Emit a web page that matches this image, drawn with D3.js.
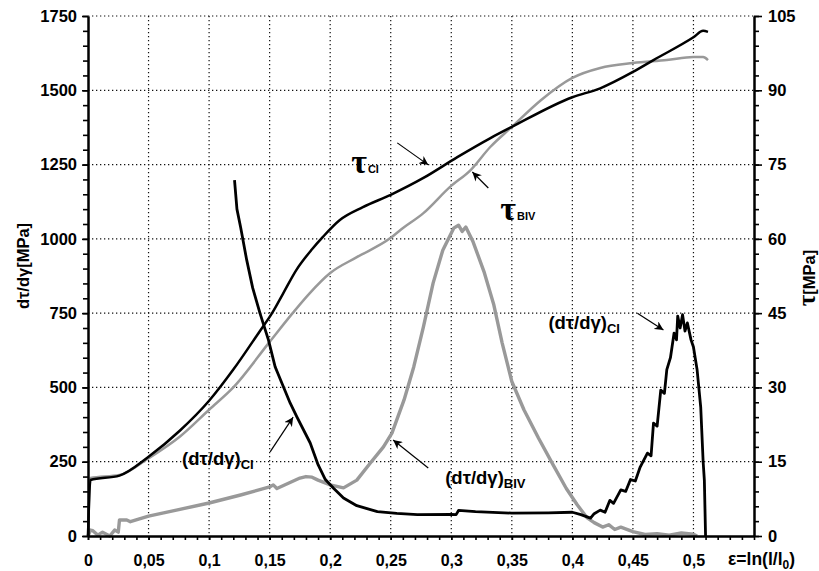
<!DOCTYPE html>
<html>
<head>
<meta charset="utf-8">
<script src="https://cdn.jsdelivr.net/npm/d3@7"></script>
<style>
  body { margin: 0; background: #fff; }
  text { font-family: "Liberation Sans", Arial, sans-serif; font-weight: bold; fill: #000; }
</style>
</head>
<body>
<svg id="chart" width="819" height="571"></svg>
<script>
// --- data ---
// tau curves use the right axis (MPa), derivative curves use the left axis (MPa)
const tauCI = [[0,0],[0.002,11.3],[0.026,12.2],[0.05,16.0],[0.076,21.3],[0.1,27.3],[0.12,33.6],
  [0.142,41.4],[0.152,45.0],[0.161,48.9],[0.172,53.7],[0.185,57.9],[0.194,60.4],[0.208,63.8],
  [0.227,66.4],[0.25,68.9],[0.277,72.3],[0.305,76.5],[0.332,80.3],[0.35,82.6],[0.4,88.6],
  [0.423,90.4],[0.45,93.7],[0.467,96.1],[0.5,100.7],[0.508,102.0],[0.512,101.8]];

const tauBIV = [[0,0],[0.002,11.7],[0.026,12.3],[0.05,15.7],[0.076,20.1],[0.1,25.5],[0.12,30.0],
  [0.15,39.2],[0.169,45.0],[0.183,49.0],[0.2,53.1],[0.222,56.3],[0.25,60.2],[0.258,61.8],
  [0.277,65.2],[0.299,70.5],[0.316,73.9],[0.332,78.5],[0.35,82.6],[0.374,88.0],[0.4,92.5],
  [0.423,94.5],[0.45,95.5],[0.478,96.1],[0.5,96.7],[0.508,96.7],[0.512,96.1]];

const dtauCI = [[0.121,1198],[0.123,1100],[0.126,1040],[0.131,930],[0.136,835],[0.142,750],
  [0.149,660],[0.1545,570],[0.157,545],[0.167,447],[0.1725,401],[0.1835,313],[0.19,240],
  [0.196,190],[0.203,160],[0.211,128],[0.222,102],[0.239,82],[0.255,76],[0.272,72],[0.3,73],
  [0.304,72],[0.306,86],[0.32,82],[0.35,77],[0.38,78],[0.4,80],[0.407,72],[0.415,60],
  [0.418,75],[0.423,87],[0.427,80],[0.431,120],[0.434,110],[0.44,155],[0.444,150],[0.448,190],
  [0.452,185],[0.456,232],[0.462,279],[0.465,270],[0.467,380],[0.47,370],[0.473,491],
  [0.476,480],[0.478,560],[0.481,600],[0.484,683],[0.486,660],[0.487,740],[0.489,700],
  [0.491,745],[0.493,690],[0.495,717],[0.498,660],[0.5,636],[0.503,560],[0.506,434],
  [0.508,250],[0.509,188],[0.51,0]];

const dtauBIV = [[0,0],[0.002,20],[0.004,18],[0.008,3],[0.012,13],[0.018,0],[0.022,20],
  [0.025,13],[0.026,54],[0.032,54],[0.035,48],[0.05,67],[0.073,87],[0.1,111],[0.126,138],
  [0.15,165],[0.153,172],[0.156,160],[0.175,195],[0.18,200],[0.185,198],[0.19,188],[0.2,172],
  [0.211,162],[0.222,188],[0.233,245],[0.244,300],[0.251,346],[0.261,458],[0.269,569],
  [0.277,704],[0.285,851],[0.293,962],[0.302,1036],[0.306,1046],[0.309,1025],[0.312,1040],
  [0.318,990],[0.327,890],[0.335,780],[0.342,650],[0.35,520],[0.36,425],[0.372,330],
  [0.384,240],[0.395,160],[0.404,105],[0.412,62],[0.418,45],[0.425,30],[0.43,38],[0.435,22],
  [0.44,30],[0.45,15],[0.46,5],[0.47,8],[0.48,3],[0.49,10],[0.5,6],[0.503,0]];

// tick labels
const xTicks = [0, 0.05, 0.1, 0.15, 0.2, 0.25, 0.3, 0.35, 0.4, 0.45, 0.5];
const leftTicks = [0, 250, 500, 750, 1000, 1250, 1500, 1750];
const rightTicks = [0, 15, 30, 45, 60, 75, 90, 105];
const xMinor = d3.range(0, 0.5501, 0.01);
const leftMinor = d3.range(0, 1751, 50);
const rightMinor = d3.range(0, 105.1, 3);

// annotations, placed in data units (x, left axis value)
const labels = [
  { main: "τ", sub: "CI", x: 0.2174, y: 1222, greek: true },
  { main: "τ", sub: "BIV", x: 0.3405, y: 1063, greek: true },
  { main: "(dτ/dγ)", sub: "CI", x: 0.0777, y: 240 },
  { main: "(dτ/dγ)", sub: "BIV", x: 0.295, y: 175 },
  { main: "(dτ/dγ)", sub: "CI", x: 0.3802, y: 697 }
];
const arrows = [
  { x1: 0.2554, y1: 1323, x2: 0.281, y2: 1249 },
  { x1: 0.3306, y1: 1171, x2: 0.3174, y2: 1225 },
  { x1: 0.1504, y1: 283, x2: 0.1694, y2: 400 },
  { x1: 0.281, y1: 229, x2: 0.252, y2: 323 },
  { x1: 0.4537, y1: 750, x2: 0.4752, y2: 693 }
];

// --- layout ---
const plotLeft = 88, plotRight = 754, plotTop = 16, plotBottom = 536;
const svg = d3.select("#chart");
svg.append("rect").attr("width", 819).attr("height", 571).attr("fill", "#fff");

const x = d3.scaleLinear().domain([0, 0.55]).range([plotLeft, plotRight]);
const yL = d3.scaleLinear().domain([0, 1750]).range([plotBottom, plotTop]);
const yR = d3.scaleLinear().domain([0, 105]).range([plotBottom, plotTop]);

const fmt = d => String(d).replace(".", ",");

// dotted grid
const grid = svg.append("g").attr("stroke", "#111").attr("stroke-width", 1.2)
  .attr("stroke-dasharray", "1.3,2.7");
grid.selectAll("line.v").data(xTicks.filter(d => d > 0)).enter().append("line")
  .attr("x1", d => x(d)).attr("x2", d => x(d)).attr("y1", plotTop).attr("y2", plotBottom);
grid.selectAll("line.h").data(leftTicks.filter(d => d > 0)).enter().append("line")
  .attr("x1", plotLeft).attr("x2", plotRight).attr("y1", d => yL(d)).attr("y2", d => yL(d));

// curves
const lineR = d3.line().x(d => x(d[0])).y(d => yR(d[1])).curve(d3.curveMonotoneX);
const lineL = d3.line().x(d => x(d[0])).y(d => yL(d[1]));

svg.append("path").datum(tauBIV).attr("d", lineR)
  .attr("fill", "none").attr("stroke", "#999").attr("stroke-width", 2.5);
svg.append("path").datum(dtauBIV).attr("d", lineL)
  .attr("fill", "none").attr("stroke", "#999").attr("stroke-width", 3.4).attr("stroke-linejoin", "round");
svg.append("path").datum(tauCI).attr("d", lineR)
  .attr("fill", "none").attr("stroke", "#000").attr("stroke-width", 2.5);
svg.append("path").datum(dtauCI).attr("d", lineL)
  .attr("fill", "none").attr("stroke", "#000").attr("stroke-width", 2.8).attr("stroke-linejoin", "round");

// axes
function styleAxis(g, size) {
  g.select(".domain").attr("stroke", "#000").attr("stroke-width", 2);
  g.selectAll(".tick line").attr("stroke", "#000").attr("stroke-width", 1.6);
  g.selectAll("text").style("font-size", size + "px");
}

svg.append("g").attr("transform", `translate(${plotLeft},0)`)
  .call(d3.axisLeft(yL).tickValues(leftMinor).tickSize(5).tickSizeOuter(0).tickFormat(""))
  .call(g => styleAxis(g, 15));
svg.append("g").attr("transform", `translate(${plotLeft},0)`)
  .call(d3.axisLeft(yL).tickValues(leftTicks).tickSize(6).tickSizeOuter(0).tickPadding(5).tickFormat(d3.format("d")))
  .call(g => styleAxis(g, 16.5));

svg.append("g").attr("transform", `translate(${plotRight},0)`)
  .call(d3.axisRight(yR).tickValues(rightMinor).tickSize(5).tickSizeOuter(0).tickFormat(""))
  .call(g => styleAxis(g, 15));
svg.append("g").attr("transform", `translate(${plotRight},0)`)
  .call(d3.axisRight(yR).tickValues(rightTicks).tickSize(8).tickSizeOuter(0).tickPadding(6).tickFormat(d3.format("d")))
  .call(g => styleAxis(g, 16.5));

svg.append("g").attr("transform", `translate(0,${plotBottom})`)
  .call(d3.axisBottom(x).tickValues(xMinor).tickSize(4).tickSizeOuter(0).tickFormat(""))
  .call(g => styleAxis(g, 15));
svg.append("g").attr("transform", `translate(0,${plotBottom})`)
  .call(d3.axisBottom(x).tickValues(xTicks).tickSize(4).tickSizeOuter(0).tickPadding(15).tickFormat(fmt))
  .call(g => styleAxis(g, 16));

// axis titles
svg.append("text").attr("transform", "translate(29,266) rotate(-90)")
  .attr("text-anchor", "middle").style("font-size", "16.5px").text("dτ/dγ[MPa]");
const rt = svg.append("text").attr("transform", "translate(815,278) rotate(-90)")
  .attr("text-anchor", "middle").style("font-size", "16.5px");
rt.append("tspan").style("font-family", "'Liberation Serif', serif").style("font-size", "25px").text("τ");
rt.append("tspan").text("[MPa]");

const xt = svg.append("text").attr("x", 728).attr("y", 565).style("font-size", "17.5px");
xt.append("tspan").text("ε=ln(l/l");
xt.append("tspan").attr("dy", 4).style("font-size", "12px").text("0");
xt.append("tspan").attr("dy", -4).text(")");

// arrows
svg.append("defs").append("marker").attr("id", "head")
  .attr("viewBox", "0 0 10 10").attr("refX", 10).attr("refY", 5)
  .attr("markerWidth", 9).attr("markerHeight", 9).attr("markerUnits", "userSpaceOnUse")
  .attr("orient", "auto")
  .append("path").attr("d", "M0,0L10,5L0,10L3,5Z").attr("fill", "#000");

svg.selectAll("line.arrow").data(arrows).enter().append("line")
  .attr("class", "arrow")
  .attr("x1", d => x(d.x1)).attr("y1", d => yL(d.y1))
  .attr("x2", d => x(d.x2)).attr("y2", d => yL(d.y2))
  .attr("stroke", "#000").attr("stroke-width", 1.2).attr("marker-end", "url(#head)");

// curve labels
labels.forEach(l => {
  const t = svg.append("text").attr("x", x(l.x)).attr("y", yL(l.y));
  if (l.greek) {
    t.append("tspan").style("font-family", "'Liberation Serif', serif").style("font-weight", "bold")
      .style("font-size", "34px").text(l.main);
    t.append("tspan").attr("dx", 1).style("font-size", "11px").text(l.sub);
  } else {
    t.append("tspan").style("font-size", "18.5px").text(l.main);
    t.append("tspan").attr("dy", 4).style("font-size", "13px").text(l.sub);
  }
});
</script>
</body>
</html>
